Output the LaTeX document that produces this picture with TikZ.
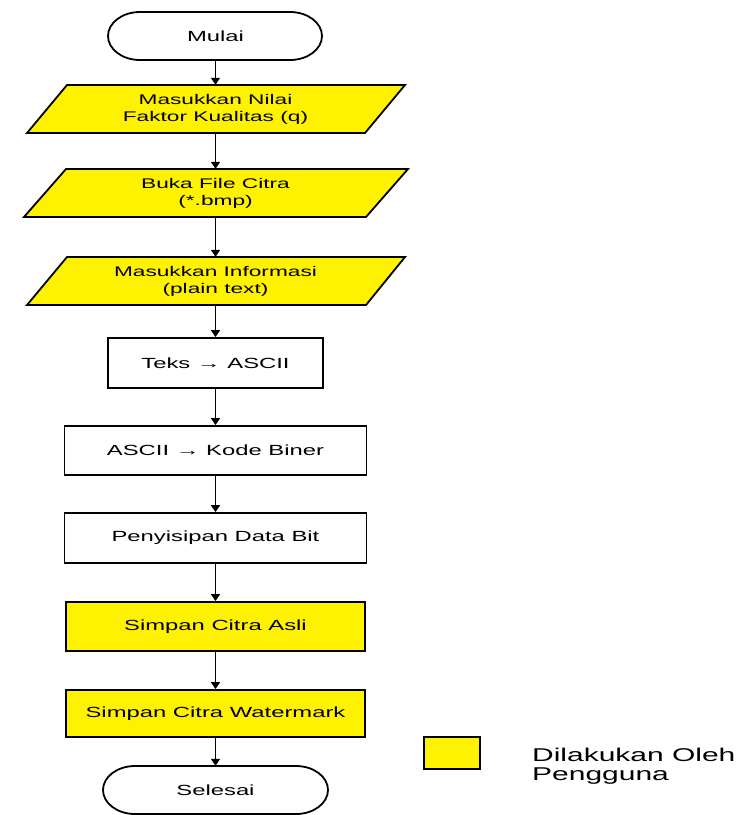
\documentclass[tikz,border=0pt]{standalone}
\usepackage{fontspec}
\setmainfont{Liberation Sans}[FakeStretch=1.62]
\usetikzlibrary{arrows.meta}
\begin{document}
\begin{tikzpicture}[x=1pt,y=-1pt,
  lbl/.style={font=\fontsize{14.7}{17}\selectfont, align=center, inner sep=0pt, text=black},
  plbl/.style={font=\fontsize{14}{17}\selectfont},
  shp/.style={draw=black, line width=1.8pt},
  usr/.style={shp, fill=yellow},
  boxnode/.style={lbl, shp, minimum height=49pt},
  hold/.style={lbl, minimum height=48pt},
  arr/.style={draw=black, line width=1.5pt, -{Triangle[length=7pt,width=9pt]}}]
\useasboundingbox (0,0) rectangle (739,815);

% terminator Mulai
\draw[shp] (140,12) -- (290,12) arc[start angle=-90,end angle=90,x radius=32,y radius=24]
  -- (140,60) arc[start angle=90,end angle=270,x radius=32,y radius=24] -- cycle;
\node[hold, minimum width=215pt] (mulai) at (215.5,36) {Mulai};

% parallelograms
\draw[usr] (67,85) -- (405,85) -- (365,133) -- (27,133) -- cycle;
\node[hold, plbl, minimum width=338pt] (p1) at (215.5,109) {Masukkan Nilai\\Faktor Kualitas (q)};
\draw[usr] (66,169) -- (408,169) -- (366,217) -- (24,217) -- cycle;
\node[hold, plbl, minimum width=338pt] (p2) at (215.5,193) {Buka File Citra\\(*.bmp)};
\draw[usr] (67,257) -- (405,257) -- (366,305) -- (27,305) -- cycle;
\node[hold, plbl, minimum width=338pt] (p3) at (215.5,281) {Masukkan Informasi\\(plain text)};

% process boxes
\node[boxnode, minimum width=215pt, minimum height=50pt] (b1) at (215.5,363) {Teks → ASCII};
\node[boxnode, minimum width=302pt] (b2) at (215.5,450.5) {ASCII → Kode Biner};
\node[boxnode, minimum width=302pt, minimum height=50pt] (b3) at (215.5,538) {Penyisipan Data Bit};
\node[boxnode, usr, minimum width=299pt] (b4) at (215.5,626.5) {Simpan Citra Asli};
\node[boxnode, usr, minimum width=299pt, minimum height=47pt] (b5) at (215.5,713.5) {Simpan Citra Watermark};

% terminator Selesai
\draw[shp] (135,766) -- (296,766) arc[start angle=-90,end angle=90,x radius=32,y radius=24]
  -- (135,814) arc[start angle=90,end angle=270,x radius=32,y radius=24] -- cycle;
\node[hold, minimum width=225pt] (selesai) at (215.5,790) {Selesai};

% connectors
\draw[arr] (mulai.south) -- (p1.north);
\draw[arr] (p1.south) -- (p2.north);
\draw[arr] (p2.south) -- (p3.north);
\draw[arr] (p3.south) -- (b1.north);
\draw[arr] (b1.south) -- (b2.north);
\draw[arr] (b2.south) -- (b3.north);
\draw[arr] (b3.south) -- (b4.north);
\draw[arr] (b4.south) -- (b5.north);
\draw[arr] (b5.south) -- (selesai.north);

% legend
\node[usr, minimum width=56pt, minimum height=32pt, inner sep=0pt] (leg) at (452,753) {};
\node[anchor=west, align=left, inner sep=0pt, font=\fontsize{18.5}{19}\selectfont, text=black] (legtxt) at (532,766) {Dilakukan Oleh\\Pengguna};
\end{tikzpicture}
\end{document}
